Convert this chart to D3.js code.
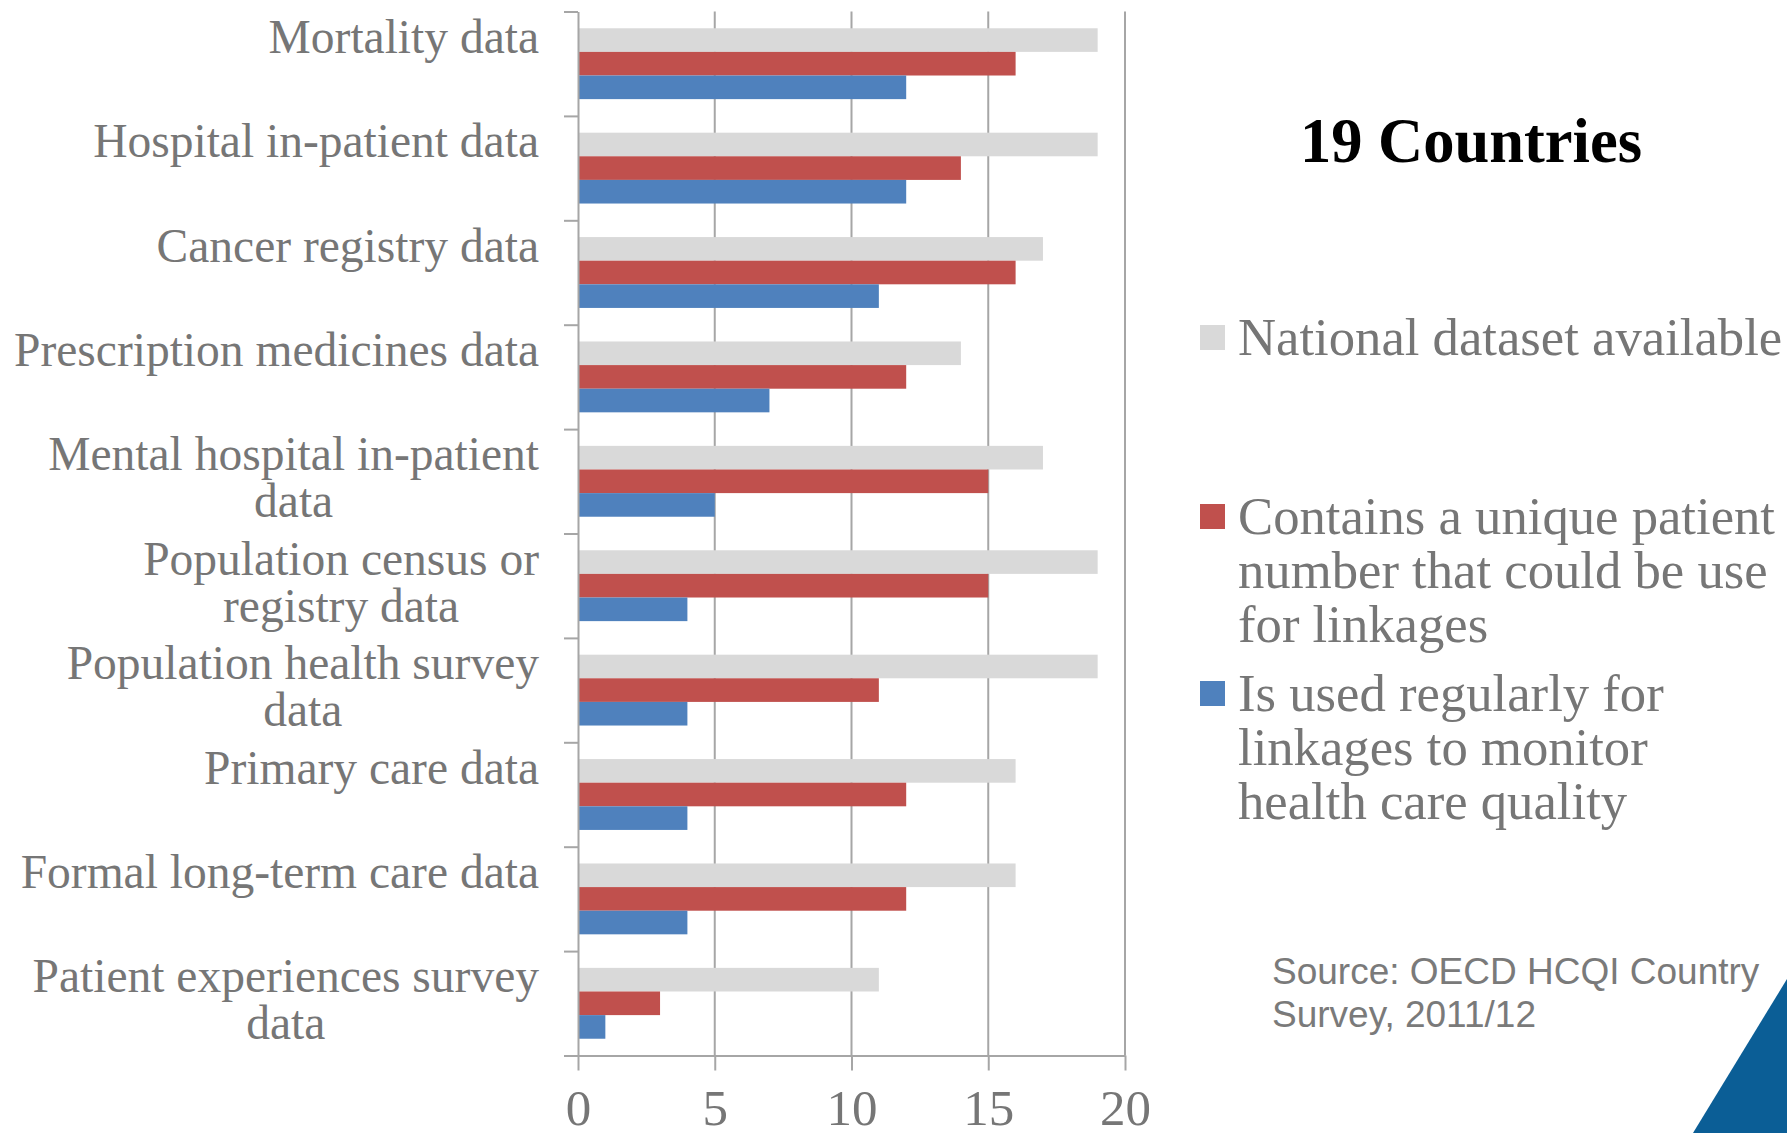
<!DOCTYPE html>
<html lang="en">
<head>
    <meta charset="utf-8">
    <style>
        body { margin: 0; background: #fff; }
        .cat { font-family: "Liberation Serif", serif; font-size: 47.5px; fill: #767676; }
        .legend text { font-family: "Liberation Serif", serif; font-size: 52.7px; fill: #767676; }
        .xaxis text { font-family: "Liberation Serif", serif; font-size: 51px; fill: #767676; }
        .grid line, .axis line, .axis path { stroke: #a6a6a6; stroke-width: 2px; }
    </style>
    <script src="https://d3js.org/d3.v7.min.js"></script>
</head>
<body>
    <svg width="1787" height="1133"></svg>
    <script>
        var categories = [
            "Mortality data",
            "Hospital in-patient data",
            "Cancer registry data",
            "Prescription medicines data",
            "Mental hospital in-patient\ndata",
            "Population census or\nregistry data",
            "Population health survey\ndata",
            "Primary care data",
            "Formal long-term care data",
            "Patient experiences survey\ndata"
        ];
        var series = ["National dataset available",
                      "Contains a unique patient\nnumber that could be use\nfor linkages",
                      "Is used regularly for\nlinkages to monitor\nhealth care quality"];
        var national = [19, 19, 17, 14, 17, 19, 19, 16, 16, 11];
        var uniqueId = [16, 14, 16, 12, 15, 15, 11, 12, 12, 3];
        var usedLinkage = [12, 12, 11, 7, 5, 4, 4, 4, 4, 1];
        var xTicks = [0, 5, 10, 15, 20];
        var colors = ["#d9d9d9", "#c0504d", "#4f81bd"];

        var values = [national, uniqueId, usedLinkage];
        var svg = d3.select("svg");

        var plotLeft = 578, plotRight = 1125, plotTop = 11.5, plotBottom = 1055.5;

        var x = d3.scaleLinear().domain([0, 20]).range([plotLeft, plotRight]);
        var y = d3.scaleBand().domain(d3.range(categories.length)).range([plotTop, plotBottom]);
        var y1 = d3.scaleBand().domain(d3.range(series.length))
            .range([0, y.bandwidth()]).paddingOuter(0.71);
        var yEdge = d3.scaleLinear().domain([0, categories.length]).range([plotTop, plotBottom]);

        // vertical gridlines
        svg.append("g").attr("class", "grid")
            .selectAll("line")
            .data(xTicks.slice(1))
            .enter().append("line")
            .attr("x1", function(d) { return x(d); })
            .attr("x2", function(d) { return x(d); })
            .attr("y1", plotTop)
            .attr("y2", plotBottom);

        // bars
        values.forEach(function(vals, s) {
            svg.append("g")
                .selectAll("rect")
                .data(vals)
                .enter().append("rect")
                .attr("x", x(0))
                .attr("y", function(d, i) { return y(i) + y1(s); })
                .attr("width", function(d) { return x(d) - x(0); })
                .attr("height", y1.bandwidth())
                .attr("fill", colors[s]);
        });

        // left axis with ticks at category boundaries
        svg.append("g").attr("class", "axis")
            .attr("transform", "translate(" + plotLeft + ",0)")
            .call(d3.axisLeft(yEdge).tickValues(d3.range(categories.length + 1))
                .tickSize(14).tickSizeOuter(0).tickFormat(""));

        // bottom axis
        var xa = svg.append("g").attr("class", "axis xaxis")
            .attr("transform", "translate(0," + plotBottom + ")")
            .call(d3.axisBottom(x).tickValues(xTicks).tickSize(15).tickSizeOuter(0));
        xa.selectAll("text").attr("y", 69).attr("dy", 0);

        // category labels, lines centred with each other, block right-aligned
        var labelRight = 539;
        categories.forEach(function(c, i) {
            var lines = c.split("\n");
            var t = svg.append("text").attr("class", "cat").attr("text-anchor", "middle");
            lines.forEach(function(l, k) {
                t.append("tspan").attr("x", 0)
                    .attr("y", y(i) + y.bandwidth() / 2 - 11 + k * 47)
                    .text(l);
            });
            var w = d3.max(t.selectAll("tspan").nodes(), function(n) { return n.getComputedTextLength(); });
            t.selectAll("tspan").attr("x", labelRight - w / 2);
        });

        // title
        svg.append("text")
            .attr("x", 1471).attr("y", 162)
            .attr("text-anchor", "middle")
            .style("font-family", "'Liberation Serif', serif")
            .style("font-size", "62.5px")
            .style("font-weight", "bold")
            .text("19 Countries");

        // legend
        var legendY = [355, 534, 711];
        var lg = svg.append("g").attr("class", "legend");
        series.forEach(function(s, i) {
            lg.append("rect")
                .attr("x", 1200).attr("y", legendY[i] - 30)
                .attr("width", 25).attr("height", 25)
                .attr("fill", colors[i]);
            var t = lg.append("text");
            s.split("\n").forEach(function(l, k) {
                t.append("tspan").attr("x", 1238).attr("y", legendY[i] + k * 54).text(l);
            });
        });

        // source
        var src = svg.append("text")
            .style("font-family", "'Liberation Sans', Arial, sans-serif")
            .style("font-size", "37px")
            .style("fill", "#7a7a7a");
        src.append("tspan").attr("x", 1272).attr("y", 984).text("Source: OECD HCQI Country");
        src.append("tspan").attr("x", 1272).attr("y", 1027).text("Survey, 2011/12");

        // corner decoration
        svg.append("path")
            .attr("d", "M1693,1133L1787,979L1787,1133Z")
            .attr("fill", "#0b5e96");
    </script>
</body>
</html>
